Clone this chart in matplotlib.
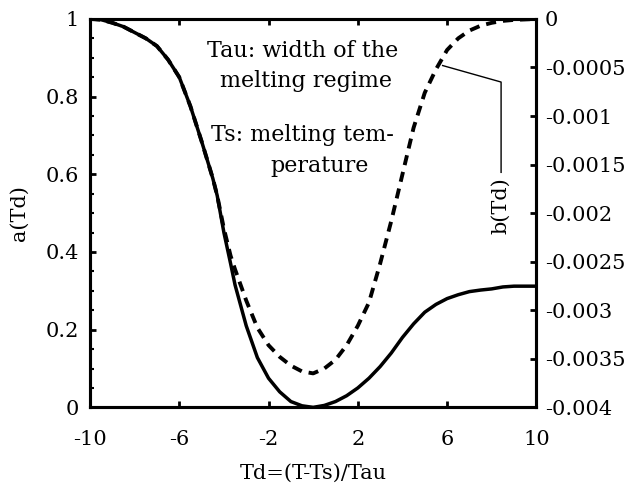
import matplotlib.pyplot as plt
from matplotlib.ticker import FixedLocator, MultipleLocator

plt.rcParams["font.family"] = ["DejaVu Serif"]
plt.rcParams["axes.unicode_minus"] = False

# reduced temperature Td=(T-Ts)/Tau
td = [-10, -9.5, -9, -8.5, -8, -7.5, -7, -6.5, -6, -5.5, -5, -4.5, -4.3, -4,
      -3.7, -3.5, -3, -2.5, -2, -1.5, -1, -0.5, 0, 0.5, 1, 1.5, 2, 2.5, 3,
      3.5, 4, 4.5, 5, 5.5, 6, 6.5, 7, 7.5, 8, 8.5, 9, 10]

# a(Td), left axis (solid)
a_td = [1.0, 0.998, 0.99, 0.98, 0.965, 0.95, 0.93, 0.895, 0.85, 0.775,
        0.685, 0.59, 0.545, 0.45, 0.37, 0.315, 0.21, 0.128, 0.075, 0.04,
        0.015, 0.004, 0.0, 0.005, 0.015, 0.03, 0.05, 0.075, 0.105, 0.14,
        0.18, 0.215, 0.245, 0.265, 0.28, 0.29, 0.298, 0.302, 0.305, 0.31,
        0.312, 0.312]

# b(Td), right axis (dashed)
b_td = [0.0, -0.000008, -0.00004, -0.00008, -0.00014, -0.0002, -0.00028,
        -0.00042, -0.0006, -0.0009, -0.00126, -0.00164, -0.00182, -0.00216,
        -0.00244, -0.00258, -0.0029, -0.00318, -0.00336, -0.00348, -0.00357,
        -0.00363, -0.00365, -0.0036, -0.00351, -0.00336, -0.00316, -0.00292,
        -0.00252, -0.00208, -0.0016, -0.00112, -0.00076, -0.00052, -0.00032,
        -0.0002, -0.00012, -0.00007, -0.00004, -0.00002, -0.00001, 0.0]

x_ticks = [-10, -6, -2, 2, 6, 10]
a_ticks = [0, 0.2, 0.4, 0.6, 0.8, 1]
a_labels = ["0", "0.2", "0.4", "0.6", "0.8", "1"]
b_ticks = [0, -0.0005, -0.001, -0.0015, -0.002, -0.0025, -0.003, -0.0035, -0.004]
b_labels = ["0", "-0.0005", "-0.001", "-0.0015", "-0.002", "-0.0025",
            "-0.003", "-0.0035", "-0.004"]

fig = plt.figure(figsize=(6.37, 4.98), dpi=100)
ax = fig.add_axes([0.1413, 0.182, 0.7007, 0.78])
ax2 = ax.twinx()

ax.plot(td, a_td, color="black", lw=2.5)
ax2.plot(td, b_td, color="black", lw=2.8, linestyle=(0, (2.6, 1.8)))

ax.set_xlim(-10, 10)
ax.set_ylim(0, 1)
ax2.set_ylim(-0.004, 0)

ax.xaxis.set_major_locator(FixedLocator(x_ticks))
ax.set_xticklabels([str(t) for t in x_ticks])
ax.yaxis.set_major_locator(FixedLocator(a_ticks))
ax.set_yticklabels(a_labels)
ax.yaxis.set_minor_locator(MultipleLocator(0.05))
ax2.yaxis.set_major_locator(FixedLocator(b_ticks))
ax2.set_yticklabels(b_labels)

fs = 15
for axis in (ax, ax2):
    for sp in axis.spines.values():
        sp.set_linewidth(2.2)
ax.tick_params(axis="both", which="major", direction="in", length=4, width=2,
               labelsize=fs, top=True, pad=8)
ax.tick_params(axis="x", which="major", pad=16)
ax.tick_params(axis="y", which="minor", direction="in", length=3, width=1.5)
ax2.tick_params(axis="y", which="major", direction="in", length=4, width=2,
                labelsize=fs, pad=6)

ax.set_xlabel("Td=(T-Ts)/Tau", fontsize=fs, labelpad=11)
ax.set_ylabel("a(Td)", fontsize=fs, labelpad=12)

# annotation lines, placed one by one
ft = 16
ax.text(-0.49, 0.9015, "Tau: width of the", fontsize=ft, ha="center", va="baseline")
ax.text(-0.31, 0.826, "melting regime", fontsize=ft, ha="center", va="baseline")
ax.text(-0.47, 0.687, "Ts: melting tem-", fontsize=ft, ha="center", va="baseline")
ax.text(0.27, 0.607, "perature", fontsize=ft, ha="center", va="baseline")

# label for the dashed curve
ax2.plot([5.8, 8.42, 8.42], [-0.00048, -0.00065, -0.00158], color="black", lw=1)
ax2.text(8.42, -0.00192, "b(Td)", fontsize=fs, rotation=90,
         ha="center", va="center")

fig.savefig("out.png", dpi=100)
